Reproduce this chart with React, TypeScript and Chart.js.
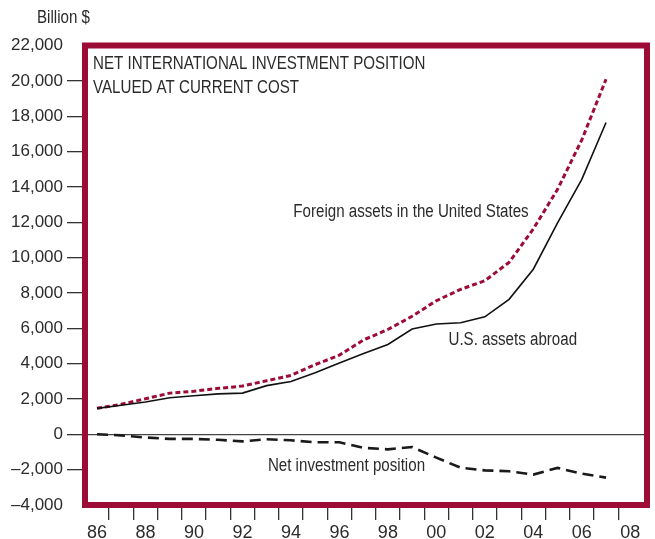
import React, { useEffect, useRef } from "react";
import { Chart, registerables } from "chart.js";

Chart.register(...registerables);

// ---- Data (billions of dollars, year-end, current cost) ----
const years = [
  1986, 1987, 1988, 1989, 1990, 1991, 1992, 1993, 1994, 1995, 1996,
  1997, 1998, 1999, 2000, 2001, 2002, 2003, 2004, 2005, 2006, 2007,
];
const foreignAssetsInUS = [
  1470, 1700, 2010, 2330, 2440, 2600, 2730, 3030, 3330, 3940, 4480,
  5340, 5930, 6680, 7560, 8200, 8690, 9730, 11620, 13860, 16660, 20090,
];
const usAssetsAbroad = [
  1469, 1646, 1829, 2070, 2179, 2286, 2331, 2754, 2987, 3486, 4032,
  4568, 5080, 5959, 6239, 6309, 6649, 7638, 9340, 11962, 14428, 17640,
];
const netPosition = [
  0, -60, -180, -260, -260, -310, -400, -280, -340, -450, -450,
  -770, -850, -720, -1320, -1890, -2040, -2090, -2280, -1900, -2230, -2450,
];
const xTickYears = [
  1986, 1987, 1988, 1989, 1990, 1991, 1992, 1993, 1994, 1995, 1996, 1997,
  1998, 1999, 2000, 2001, 2002, 2003, 2004, 2005, 2006, 2007, 2008,
];
const yTickValues = [
  -4000, -2000, 0, 2000, 4000, 6000, 8000, 10000, 12000, 14000, 16000,
  18000, 20000, 22000,
];
const titleLines = ["NET INTERNATIONAL INVESTMENT POSITION", "VALUED AT CURRENT COST"];
const unitLabel = "Billion $";
const seriesLabels = [
  { text: "Foreign assets in the United States", x: 1994.1, y: 12300 },
  { text: "U.S. assets abroad", x: 2000.5, y: 5050 },
  { text: "Net investment position", x: 1993.05, y: -2100 },
];

const CRIMSON = "#9d0c37";
const TEXT = "#2b2b2b";
const FONT = "'Liberation Sans', Arial, sans-serif";
const NARROW = 0.84;

const toPoints = (vals: number[]) => years.map((yr, i) => ({ x: yr, y: vals[i] }));

const fmtY = (v: number) => {
  const s = Math.abs(v).toLocaleString("en-US");
  return v < 0 ? "\u2013" + s : s;
};

const framePlugin = {
  id: "frame",
  afterDatasetsDraw(chart: any) {
    const { ctx, chartArea } = chart;
    ctx.save();
    ctx.strokeStyle = CRIMSON;
    ctx.lineWidth = 6;
    ctx.strokeRect(
      chartArea.left,
      chartArea.top,
      chartArea.right - chartArea.left,
      chartArea.bottom - chartArea.top
    );
    ctx.restore();
  },
};

const drawNarrow = (ctx: CanvasRenderingContext2D, text: string, x: number, y: number) => {
  ctx.save();
  ctx.translate(x, y);
  ctx.scale(NARROW, 1);
  ctx.fillText(text, 0, 0);
  ctx.restore();
};

const textPlugin = {
  id: "texts",
  afterDraw(chart: any) {
    const { ctx, chartArea, scales } = chart;
    ctx.save();
    ctx.fillStyle = TEXT;
    ctx.textAlign = "left";
    ctx.textBaseline = "alphabetic";
    ctx.font = `18px ${FONT}`;
    titleLines.forEach((line, i) => {
      drawNarrow(ctx, line, chartArea.left + 8, chartArea.top + 23 + i * 24);
    });
    seriesLabels.forEach((l) => {
      drawNarrow(ctx, l.text, scales.x.getPixelForValue(l.x), scales.y.getPixelForValue(l.y));
    });
    drawNarrow(ctx, unitLabel, 37, chartArea.top - 23);
    ctx.restore();
  },
};

export default function App() {
  const ref = useRef<HTMLCanvasElement | null>(null);

  useEffect(() => {
    if (!ref.current) return;
    const chart = new Chart(ref.current, {
      type: "line",
      data: {
        datasets: [
          {
            label: "Foreign assets in the United States",
            data: toPoints(foreignAssetsInUS),
            borderColor: CRIMSON,
            borderWidth: 3,
            borderDash: [5, 3],
            pointRadius: 0,
            tension: 0,
            order: 2,
          },
          {
            label: "U.S. assets abroad",
            data: toPoints(usAssetsAbroad),
            borderColor: "#111111",
            borderWidth: 1.6,
            pointRadius: 0,
            tension: 0,
            order: 1,
          },
          {
            label: "Net investment position",
            data: toPoints(netPosition),
            borderColor: "#1a1a1a",
            borderWidth: 2.6,
            borderDash: [11, 6],
            pointRadius: 0,
            tension: 0,
            order: 3,
          },
        ],
      },
      options: {
        responsive: false,
        animation: false,
        events: [],
        layout: { padding: { top: 45.5, right: 8, left: 0, bottom: 0 } },
        plugins: {
          legend: { display: false },
          tooltip: { enabled: false },
          title: { display: false },
        },
        scales: {
          x: {
            type: "linear",
            min: 1985.505,
            max: 2008.69,
            offset: false,
            afterBuildTicks: (scale: any) => {
              scale.ticks = xTickYears.map((v) => ({ value: v }));
            },
            afterFit: (scale: any) => {
              scale.height = 34;
            },
            border: { display: false },
            grid: {
              offset: true,
              drawOnChartArea: false,
              tickLength: 15,
              lineWidth: 1.3,
              color: (ctx: any) => (ctx.type === "tick" ? "#333333" : "rgba(0,0,0,0)"),
              tickColor: (ctx: any) => (ctx.type === "tick" ? "#333333" : "rgba(0,0,0,0)"),
            },
            ticks: {
              autoSkip: false,
              maxRotation: 0,
              padding: 2,
              color: TEXT,
              font: { family: FONT, size: 18 },
              callback: (v: any) => {
                const n = Number(v);
                return n % 2 === 0 ? String(n % 100).padStart(2, "0") : "";
              },
            },
          },
          y: {
            type: "linear",
            min: -4000,
            max: 22000,
            afterBuildTicks: (scale: any) => {
              scale.ticks = yTickValues.map((v) => ({ value: v }));
            },
            afterFit: (scale: any) => {
              scale.width = 85;
            },
            border: { display: false },
            grid: {
              drawOnChartArea: true,
              tickLength: 18,
              lineWidth: 1.3,
              color: (ctx: any) =>
                ctx.tick && ctx.tick.value === 0 ? "#444444" : "rgba(0,0,0,0)",
              tickColor: (ctx: any) =>
                ctx.tick && (ctx.tick.value === 22000 || ctx.tick.value === -4000)
                  ? "rgba(0,0,0,0)"
                  : "#333333",
            },
            ticks: {
              padding: 4,
              color: TEXT,
              font: { family: FONT, size: 17 },
              callback: (v: any) => fmtY(Number(v)),
            },
          },
        },
      },
      plugins: [framePlugin, textPlugin],
    });
    return () => chart.destroy();
  }, []);

  return (
    <div style={{ position: "absolute", left: 0, top: 0, width: 655, height: 539, background: "#fff" }}>
      <canvas ref={ref} width={655} height={539} style={{ display: "block" }} />
    </div>
  );
}
